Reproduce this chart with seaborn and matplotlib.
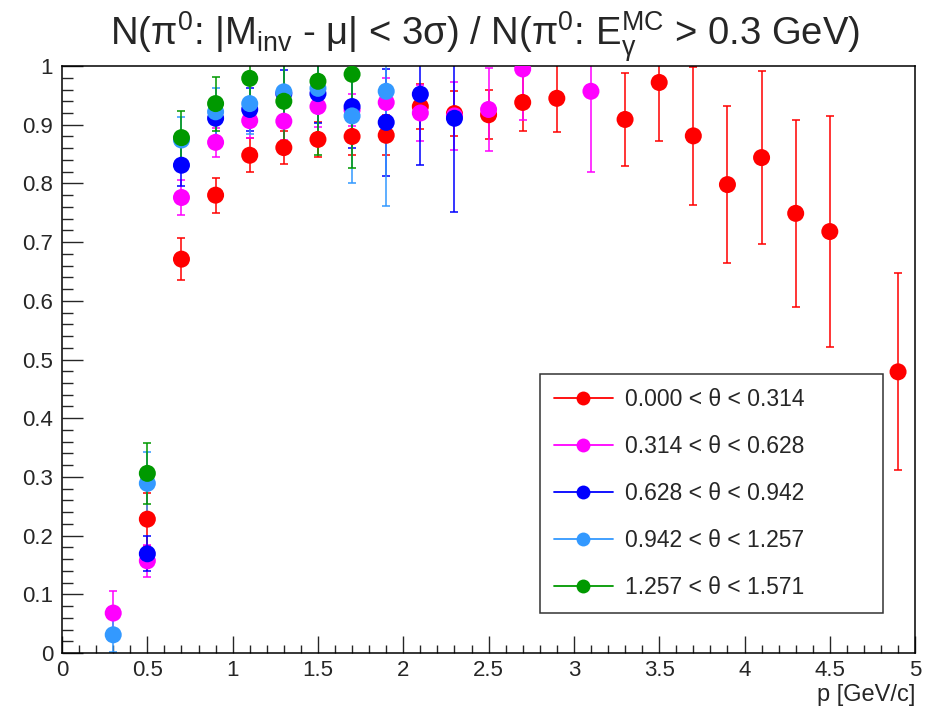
import numpy as np
import pandas as pd
import matplotlib
matplotlib.use('Agg')
import matplotlib.pyplot as plt
from matplotlib.lines import Line2D
from matplotlib.ticker import MultipleLocator, FormatStrFormatter
import seaborn as sns

# ---------------- data ----------------
labels = ['0.000 < θ < 0.314', '0.314 < θ < 0.628', '0.628 < θ < 0.942',
          '0.942 < θ < 1.257', '1.257 < θ < 1.571']
colors = ['#ff0000', '#ff00ff', '#0000ff', '#3399ff', '#009900']

p_red = [0.5, 0.7, 0.9, 1.1, 1.3, 1.5, 1.7, 1.9, 2.1, 2.3, 2.5, 2.7, 2.9,
         3.3, 3.5, 3.7, 3.9, 4.1, 4.3, 4.5, 4.9]
eff_red = [0.228, 0.671, 0.780, 0.848, 0.861, 0.875, 0.880, 0.882, 0.931, 0.919, 0.917,
           0.938, 0.945, 0.909, 0.972, 0.881, 0.798, 0.844, 0.749, 0.718, 0.479]
err_red = [0.045, 0.036, 0.030, 0.029, 0.028, 0.030, 0.032, 0.034, 0.038, 0.038, 0.042,
           0.048, 0.057, 0.079, 0.099, 0.118, 0.134, 0.148, 0.159, 0.197, 0.168]

p_mag = [0.3, 0.5, 0.7, 0.9, 1.1, 1.3, 1.5, 1.7, 1.9, 2.1, 2.3, 2.5, 2.7, 3.1]
eff_mag = [0.068, 0.157, 0.776, 0.870, 0.907, 0.906, 0.931, 0.925, 0.938, 0.920, 0.915,
           0.926, 0.995, 0.957]
err_mag = [0.038, 0.027, 0.030, 0.025, 0.030, 0.032, 0.035, 0.027, 0.042, 0.048, 0.058,
           0.070, 0.087, 0.137]

p_blue = [0.5, 0.7, 0.9, 1.1, 1.3, 1.5, 1.7, 1.9, 2.1, 2.3]
eff_blue = [0.169, 0.831, 0.911, 0.926, 0.953, 0.953, 0.931, 0.904, 0.952, 0.911]
err_blue = [0.030, 0.035, 0.030, 0.036, 0.040, 0.050, 0.070, 0.091, 0.121, 0.160]

p_azure = [0.3, 0.5, 0.7, 0.9, 1.1, 1.3, 1.5, 1.7, 1.9]
eff_azure = [0.031, 0.289, 0.874, 0.922, 0.936, 0.956, 0.962, 0.915, 0.957]
err_azure = [0.030, 0.053, 0.040, 0.041, 0.051, 0.060, 0.080, 0.115, 0.195]

p_green = [0.5, 0.7, 0.9, 1.1, 1.3, 1.5, 1.7]
eff_green = [0.306, 0.878, 0.936, 0.979, 0.940, 0.974, 0.986]
err_green = [0.052, 0.046, 0.046, 0.080, 0.080, 0.126, 0.159]

series = [(p_red, eff_red, err_red), (p_mag, eff_mag, err_mag),
          (p_blue, eff_blue, err_blue), (p_azure, eff_azure, err_azure),
          (p_green, eff_green, err_green)]

frames = []
for lab, (p, e, s) in zip(labels, series):
    frames.append(pd.DataFrame({'p': p, 'eff': e, 'err': s, 'bin': lab}))
df = pd.concat(frames, ignore_index=True)

# ---------------- style ----------------
sns.set_style('ticks')
plt.rcParams['font.family'] = ['Liberation Sans', 'DejaVu Sans']
plt.rcParams['mathtext.fontset'] = 'custom'
plt.rcParams['mathtext.rm'] = 'Liberation Sans'
plt.rcParams['mathtext.it'] = 'Liberation Sans'

fig = plt.figure(figsize=(9.3, 7.07), dpi=100)
ax = fig.add_axes([0.0667, 0.0764, 0.9173, 0.8302])

palette = dict(zip(labels, colors))
for lab in labels:
    sub = df[df['bin'] == lab]
    ax.errorbar(sub['p'], sub['eff'], yerr=sub['err'], fmt='none',
                ecolor=palette[lab], elinewidth=1.3, capsize=3, capthick=1.3,
                alpha=0.85, zorder=2)
    sns.scatterplot(data=sub, x='p', y='eff', color=palette[lab], s=150,
                    edgecolor='none', ax=ax, zorder=3, legend=False)

ax.set_xlim(0, 5)
ax.set_ylim(0, 1)
ax.set_xlabel('')
ax.set_ylabel('')

ax.xaxis.set_major_locator(MultipleLocator(0.5))
ax.xaxis.set_minor_locator(MultipleLocator(0.1))
ax.yaxis.set_major_locator(MultipleLocator(0.1))
ax.yaxis.set_minor_locator(MultipleLocator(0.02))
ax.xaxis.set_major_formatter(FormatStrFormatter('%g'))
ax.yaxis.set_major_formatter(FormatStrFormatter('%g'))
ax.tick_params(axis='both', which='both', direction='in', labelsize=16,
               top=False, right=False, width=1)
ax.tick_params(axis='x', which='major', length=12, pad=5)
ax.tick_params(axis='x', which='minor', length=6)
ax.tick_params(axis='y', which='major', length=15, pad=6.5)
ax.tick_params(axis='y', which='minor', length=8)
for sp in ax.spines.values():
    sp.set_visible(True)
    sp.set_linewidth(1.1)
    sp.set_color('black')

ax.text(1.0, -0.053, 'p [GeV/c]', transform=ax.transAxes, ha='right', va='top',
        fontsize=17)

fig.text(0.522, 0.9364,
         r'N(π$^{\mathregular{0}}$: |M$_{\mathregular{inv}}$ - μ| < 3σ) / '
         r'N(π$^{\mathregular{0}}$: E$_{\mathregular{γ}}^{\mathregular{MC}}$ > 0.3 GeV)',
         ha='center', va='baseline', fontsize=27.5)

handles = [Line2D([0], [0], color=c, marker='o', markersize=10, lw=1.3,
                  markeredgecolor='none') for c in colors]
leg = ax.legend(handles, labels, loc='upper left',
                bbox_to_anchor=(0.560, 0.0767, 0.4025, 0.398), mode='expand',
                fontsize=16.5, frameon=True, fancybox=False, edgecolor='black',
                labelspacing=1.05, handlelength=2.6, borderpad=0.6,
                handletextpad=0.5, borderaxespad=0)
leg.get_frame().set_linewidth(1.1)

fig.savefig('out.png', dpi=100)
